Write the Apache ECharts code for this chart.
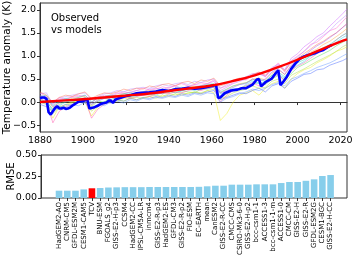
<!DOCTYPE html>
<html><head><meta charset="utf-8">
<script src="https://cdn.jsdelivr.net/npm/echarts@6/dist/echarts.min.js"></script>
<style>html,body{margin:0;padding:0;background:#fff}#c{width:356px;height:259px}</style>
</head><body><div id="c"></div>
<script>
// ---- top panel data ----
const modelYears = [1880,1883,1886,1889,1892,1895,1898,1901,1904,1907,1910,1913,1916,1919,1922,1925,1928,1931,1934,1937,1940,1943,1946,1949,1952,1955,1958,1961,1964,1967,1970,1973,1976,1979,1982,1985,1988,1991,1994,1997,2000,2003,2006,2009,2012,2015,2018,2021,2023];
const modelA = [0.15,0.1,-0.05,0.05,0.08,0.1,0.12,0.15,0.0,0.08,
 0.12,0.15,0.2,0.18,0.22,0.25,0.22,0.28,0.3,0.27,
 0.32,0.35,0.3,0.33,0.38,0.36,0.4,0.45,0.25,0.32,
 0.4,0.45,0.5,0.6,0.62,0.55,0.75,0.82,0.7,0.95,
 1.05,1.2,1.3,1.42,1.5,1.65,1.78,1.92,2.02];
const modelB = [0.2,0.12,0.0,0.1,0.05,0.12,0.15,0.1,-0.02,0.1,
 0.15,0.12,0.18,0.22,0.2,0.25,0.3,0.26,0.28,0.33,
 0.3,0.36,0.4,0.35,0.38,0.42,0.4,0.48,0.3,0.35,
 0.42,0.5,0.48,0.58,0.65,0.55,0.7,0.85,0.65,0.9,
 1.0,1.1,1.25,1.3,1.42,1.55,1.6,1.75,1.85];
const modelC = [0.05,0.0,-0.15,-0.05,0.02,0.0,0.05,0.08,-0.1,0.02,
 0.0,0.1,0.08,0.12,0.1,0.15,0.18,0.15,0.2,0.18,
 0.22,0.2,0.25,0.22,0.2,0.28,0.3,0.32,0.1,0.18,
 0.25,0.3,0.35,0.4,0.42,0.38,0.5,0.58,0.48,0.62,
 0.75,0.82,0.9,0.98,1.05,1.12,1.22,1.3,1.35];
const modelD = [0.0,-0.05,-0.35,-0.1,-0.05,0.0,0.02,0.0,-0.3,-0.1,
 0.0,0.05,0.02,0.08,0.1,0.05,0.1,0.12,0.08,0.15,
 0.12,0.18,0.15,0.2,0.22,0.18,0.25,0.2,-0.4,-0.25,
 0.0,0.15,0.2,0.25,0.15,0.3,0.4,0.45,0.3,0.5,
 0.62,0.7,0.75,0.85,0.92,1.0,1.1,1.15,1.2];
const modelE = [0.1,0.05,-0.2,-0.08,0.0,0.05,0.02,0.1,-0.05,0.05,
 0.08,0.05,0.12,0.1,0.15,0.12,0.18,0.2,0.15,0.22,
 0.25,0.2,0.24,0.28,0.25,0.3,0.28,0.33,0.18,0.22,
 0.3,0.28,0.38,0.45,0.4,0.45,0.58,0.6,0.52,0.7,
 0.8,0.88,1.0,1.05,1.15,1.2,1.3,1.4,1.45];
const modelF = [-0.05,-0.1,-0.2,-0.12,-0.05,-0.08,0.0,-0.02,-0.15,-0.05,
 0.0,-0.02,0.05,0.02,0.08,0.05,0.1,0.08,0.12,0.1,
 0.15,0.12,0.18,0.15,0.2,0.18,0.22,0.25,0.05,0.1,
 0.15,0.2,0.18,0.25,0.3,0.22,0.35,0.4,0.3,0.45,
 0.52,0.6,0.62,0.7,0.72,0.8,0.85,0.9,0.95];
const modelG = [0.12,0.08,-0.12,0.0,0.05,0.08,0.1,0.12,-0.08,0.05,
 0.1,0.12,0.15,0.18,0.15,0.2,0.22,0.25,0.22,0.28,
 0.25,0.3,0.28,0.32,0.35,0.3,0.35,0.38,0.2,0.28,
 0.35,0.4,0.42,0.5,0.52,0.48,0.62,0.7,0.6,0.78,
 0.9,0.98,1.08,1.15,1.25,1.32,1.42,1.52,1.6];
const modelH = [0.18,0.2,-0.05,0.08,0.12,0.15,0.18,0.2,0.05,0.12,
 0.18,0.2,0.25,0.22,0.28,0.3,0.32,0.3,0.35,0.38,
 0.35,0.4,0.42,0.38,0.45,0.42,0.48,0.5,0.3,0.38,
 0.45,0.5,0.55,0.62,0.6,0.58,0.72,0.8,0.7,0.88,
 0.98,1.1,1.22,1.35,1.45,1.55,1.7,1.82,1.9];
const modelI = [0.02,-0.02,-0.25,-0.12,-0.08,-0.02,0.0,0.05,-0.2,-0.08,
 -0.02,0.0,0.05,0.02,0.08,0.1,0.08,0.12,0.15,0.12,
 0.18,0.15,0.2,0.18,0.22,0.2,0.25,0.28,0.08,0.12,
 0.2,0.25,0.28,0.35,0.3,0.32,0.45,0.5,0.4,0.58,
 0.65,0.72,0.8,0.88,0.95,1.02,1.1,1.2,1.25];
const modelJ = [0.08,0.0,-0.45,-0.2,-0.1,-0.05,0.0,0.05,-0.35,-0.15,
 -0.05,0.02,0.05,0.1,0.08,0.12,0.15,0.12,0.18,0.2,
 0.18,0.22,0.2,0.25,0.28,0.25,0.3,0.32,0.0,0.15,
 0.25,0.3,0.35,0.42,0.35,0.4,0.55,0.6,0.45,0.68,
 0.78,0.85,0.95,1.05,1.12,1.2,1.35,1.45,1.5];
const modelK = [0.12,0.15,-0.08,0.02,0.08,0.05,0.1,0.15,0.0,0.1,
 0.12,0.15,0.12,0.18,0.2,0.18,0.22,0.2,0.25,0.28,
 0.25,0.3,0.32,0.28,0.32,0.35,0.38,0.4,0.22,0.28,
 0.35,0.38,0.42,0.48,0.5,0.45,0.58,0.65,0.55,0.72,
 0.85,0.92,1.0,1.1,1.18,1.25,1.35,1.45,1.5];
const modelL = [0.0,-0.05,-0.18,-0.1,-0.12,-0.05,-0.08,0.0,-0.12,-0.05,
 -0.08,0.0,0.02,-0.02,0.05,0.02,0.08,0.05,0.1,0.08,
 0.12,0.1,0.15,0.12,0.18,0.15,0.2,0.18,0.0,0.08,
 0.12,0.18,0.22,0.28,0.25,0.3,0.38,0.42,0.35,0.5,
 0.55,0.62,0.68,0.75,0.8,0.85,0.92,1.0,1.05];
const modelM = [0.22,0.15,-0.02,0.1,0.15,0.12,0.18,0.22,0.08,0.15,
 0.2,0.18,0.22,0.28,0.25,0.3,0.28,0.35,0.32,0.38,
 0.4,0.35,0.42,0.45,0.4,0.48,0.45,0.52,0.35,0.4,
 0.48,0.52,0.5,0.6,0.65,0.58,0.72,0.78,0.68,0.85,
 0.95,1.05,1.15,1.25,1.32,1.42,1.5,1.62,1.7];
const modelN = [0.05,0.1,-0.1,-0.02,0.05,0.02,0.08,0.05,-0.05,0.02,
 0.08,0.1,0.08,0.15,0.12,0.18,0.15,0.2,0.22,0.18,
 0.25,0.28,0.25,0.3,0.28,0.32,0.35,0.38,0.2,0.25,
 0.32,0.38,0.4,0.5,0.45,0.5,0.65,0.72,0.6,0.8,
 0.92,1.0,1.12,1.22,1.3,1.4,1.5,1.62,1.7];
const models = [modelA,modelB,modelC,modelD,modelE,modelF,modelG,modelH,modelI,modelJ,modelK,modelL,modelM,modelN];
const modelColors = ['#cc66ff','#ff66cc','#55dd55','#eeee22','#33ccee','#4466ff','#ffaa44','#bb88ff','#aadd44','#ff55aa','#33ddaa','#6699ff','#ff7755','#9955ee'];

const obsYears = [1880,1881,1882,1883,1884,1885,1886,1887,1888,1889,1890,1891,1892,1893,1894,1895,1896,1897,1898,1899,1900,1901,1902,1903,1904,1905,1906,1907,1908,1909,1910,1911,1912,1913,1914,1915,1916,1918,1920,1922,1925,1928,1931,1934,1937,1940,1943,1946,1949,1952,1955,1959,1962,1963,1964,1966,1969,1972,1974,1976,1979,1981,1982,1983,1985,1988,1990,1991,1992,1993,1995,1997,1999,2001,2003,2005,2008,2010,2012,2014,2016];
const obsVals = [0.09,0.1,0.1,0.07,-0.22,-0.27,-0.2,-0.13,-0.09,-0.14,-0.14,-0.12,-0.15,-0.14,-0.12,-0.08,-0.05,-0.02,0.01,0.02,0.02,0.04,0.06,-0.14,-0.13,-0.12,-0.1,-0.08,-0.05,-0.03,-0.02,-0.01,0.03,0.03,-0.02,0.05,0.07,0.1,0.13,0.15,0.19,0.2,0.21,0.23,0.26,0.24,0.28,0.29,0.31,0.29,0.3,0.34,0.37,0.09,0.1,0.19,0.25,0.27,0.3,0.3,0.38,0.49,0.5,0.34,0.43,0.51,0.64,0.69,0.37,0.42,0.55,0.72,0.84,0.94,0.99,1.02,1.06,1.1,1.13,1.19,1.24];

const fitYears = [1880,1890,1900,1910,1920,1930,1940,1950,1960,1970,1980,1990,2000,2010,2020,2023];
const fitVals = [0.0,0.03,0.06,0.10,0.14,0.18,0.24,0.30,0.36,0.46,0.58,0.74,0.92,1.12,1.31,1.36];

const yearTicks = [1880,1900,1920,1940,1960,1980,2000,2020];
const tempTicks = [-0.5,0,0.5,1,1.5,2];

// ---- bottom panel data ----
const rmseNames = ['HadGEM2-AO','CNRM-CM5','GFDL-ESM2M','CESM1-CAM5','TCV','BNU-ESM','FGOALS_g2','GISS-E2-H-p3','CCSM4','HadGEM2-CC','IPSL-CM5A-LR','inmcm4','GISS-E2-R-p3','HadGEM2-ES','GFDL-CM3','GISS-E2-R-p2','FIO-ESM','EC-EARTH','mean','CanESM2','GISS-E2-R-CC','CMCC-CMS','CSIRO-Mk3-6-0','GISS-E2-H-p2','bcc-csm1-1','ACCESS1-3','bcc-csm1-1-m','ACCESS1-0','CMCC-CM','GISS-E2-H','GISS-E2-R','GFDL-ESM2G','CESM1-BGC','GISS-E2-H-CC'];
const rmseVals = [0.085,0.085,0.085,0.10,0.113,0.116,0.122,0.124,0.126,0.126,0.126,0.128,0.128,0.128,0.128,0.128,0.128,0.13,0.136,0.143,0.143,0.155,0.155,0.155,0.159,0.159,0.159,0.174,0.186,0.186,0.2,0.217,0.256,0.267];
const rmseTicks = [0,0.25,0.5];
const highlight = 'TCV';

const FONT = 'DejaVu Sans';
const minus = s => s.replace('-', '\u2212');
const chart = echarts.init(document.getElementById('c'), null, {renderer:'canvas'});

const series = [];
models.forEach((m, i) => {
  series.push({type:'line', xAxisIndex:0, yAxisIndex:0, data: modelYears.map((y,k)=>[y,m[k]]),
    showSymbol:false, silent:true, lineStyle:{width:0.8, color:modelColors[i], opacity:0.6}, z:1});
});
series.push({type:'line', xAxisIndex:0, yAxisIndex:0, data: obsYears.map((y,k)=>[y,obsVals[k]]),
  showSymbol:false, lineStyle:{width:2.6, color:'#0000ff'}, z:3});
series.push({type:'line', xAxisIndex:0, yAxisIndex:0, data: fitYears.map((y,k)=>[y,fitVals[k]]),
  smooth:true, showSymbol:false, lineStyle:{width:2.4, color:'#ff0000'}, z:4});
series.push({type:'bar', xAxisIndex:2, yAxisIndex:2, barWidth:'80%',
  data: rmseVals.map((v,k)=>({value:v, itemStyle:{color: rmseNames[k]===highlight ? '#ff0000' : '#87ceeb'}})), z:2});

const axisLineStyle = {show:true, lineStyle:{color:'#333', width:1}};
chart.setOption({
  animation:false,
  title:{text:'Observed\nvs models', left:51, top:12, padding:0, textStyle:{fontFamily:FONT, fontSize:10, fontWeight:'normal', color:'#000', lineHeight:12}},
  grid:[
    {left:40, right:9, top:3, bottom:127, show:true, borderColor:'#333', borderWidth:1, outerBoundsMode:'none', containLabel:false},
    {left:41, right:9, top:155, bottom:61, show:true, borderColor:'#333', borderWidth:1, outerBoundsMode:'none', containLabel:false},
    {left:54.9, right:21.3, top:155, bottom:61, outerBoundsMode:'none', containLabel:false}
  ],
  xAxis:[
    {type:'value', gridIndex:0, min:1880, max:2023, interval:20, splitLine:{show:false}, axisLine:axisLineStyle,
      axisTick:{show:true, length:3, customValues:yearTicks, lineStyle:{color:'#333'}},
      axisLabel:{customValues:yearTicks, fontFamily:FONT, fontSize:9.5, color:'#000', margin:4, formatter:v=>String(v)}},
    {type:'value', gridIndex:1, min:0, max:1, show:false},
    {type:'category', gridIndex:2, data:rmseNames, boundaryGap:true, axisLine:{show:false},
      axisTick:{show:true, alignWithLabel:true, length:3, lineStyle:{color:'#333'}},
      axisLabel:{interval:0, rotate:90, fontFamily:FONT, fontSize:7, color:'#000', margin:4}}
  ],
  yAxis:[
    {type:'value', gridIndex:0, min:-0.65, max:2.15, splitLine:{show:false}, axisLine:axisLineStyle,
      axisTick:{show:true, length:3, customValues:tempTicks, lineStyle:{color:'#333'}},
      axisLabel:{customValues:tempTicks, fontFamily:FONT, fontSize:9.5, color:'#000', margin:4,
        formatter:v=>minus(Number(v).toFixed(1))},
      name:'Temperature anomaly (K)', nameLocation:'middle', nameGap:27, nameRotate:90, nameMoveOverlap:false,
      nameTextStyle:{fontFamily:FONT, fontSize:10.5, color:'#000'}},
    {type:'value', gridIndex:1, min:0, max:0.5, splitLine:{show:false}, axisLine:axisLineStyle,
      axisTick:{show:true, length:3, customValues:rmseTicks, lineStyle:{color:'#333'}},
      axisLabel:{customValues:rmseTicks, fontFamily:FONT, fontSize:9.5, color:'#000', margin:4,
        formatter:v=>Number(v).toFixed(2)},
      name:'RMSE', nameLocation:'middle', nameGap:25, nameRotate:90, nameMoveOverlap:false,
      nameTextStyle:{fontFamily:FONT, fontSize:10, color:'#000'}},
    {type:'value', gridIndex:2, min:0, max:0.5, show:false}
  ],
  series
});
</script></body></html>
